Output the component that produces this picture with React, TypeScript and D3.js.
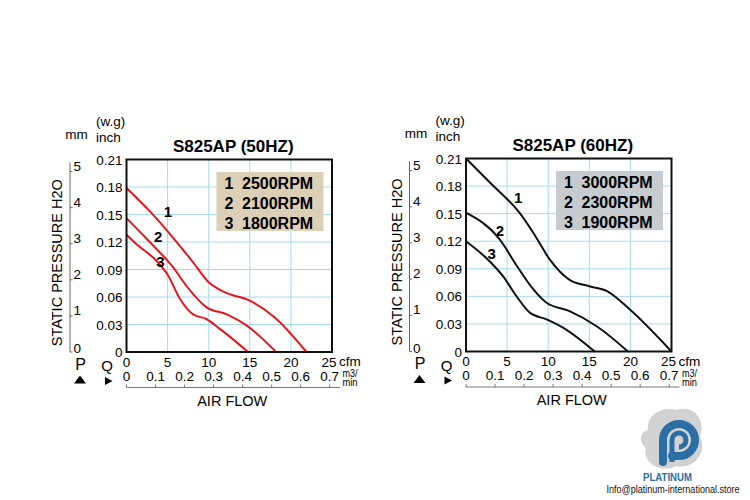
import React from "react";
import * as d3 from "d3";

// axis ticks
const cfmTicks = [0, 5, 10, 15, 20, 25];
const m3Ticks = [0, 0.1, 0.2, 0.3, 0.4, 0.5, 0.6, 0.7];
const inchTicks = [0, 0.03, 0.06, 0.09, 0.12, 0.15, 0.18, 0.21];
const mmTicks = [0, 1, 2, 3, 4, 5];

// 50Hz curves [cfm, inch H2O]
const hz50Rpm1 = [[0, 0.179], [3, 0.152], [6, 0.121], [8, 0.099], [10, 0.076], [12, 0.065], [15, 0.056], [18, 0.038], [21.9, 0]];
const hz50Rpm2 = [[0, 0.146], [2.5, 0.123], [5.7, 0.092], [7.3, 0.072], [9.7, 0.049], [12.2, 0.041], [14.6, 0.029], [18.2, 0]];
const hz50Rpm3 = [[0, 0.128], [1.3, 0.117], [3.7, 0.099], [5.1, 0.083], [6.5, 0.058], [8.1, 0.041], [9.7, 0.036], [11.4, 0.025], [14.8, 0]];
const hz50Legend = ["2500RPM", "2100RPM", "1800RPM"];
const hz50LabelPos = [[5.05, 0.153], [3.85, 0.126], [4.14, 0.099]];

// 60Hz curves
const hz60Rpm1 = [[0, 0.21], [3, 0.183], [6.5, 0.151], [8.2, 0.129], [10.2, 0.1], [12.6, 0.078], [15, 0.071], [17.1, 0.066], [19.9, 0.046], [25, 0]];
const hz60Rpm2 = [[0, 0.151], [4.1, 0.122], [6.2, 0.093], [8.2, 0.0675], [9.8, 0.053], [12.6, 0.044], [15.9, 0.0275], [19.7, 0]];
const hz60Rpm3 = [[0, 0.12], [2.9, 0.098], [4.5, 0.082], [6.15, 0.06], [7.8, 0.042], [9.8, 0.035], [11.8, 0.026], [15.65, 0]];
const hz60Legend = ["3000RPM", "2300RPM", "1900RPM"];
const hz60LabelPos = [[6.36, 0.168], [4.14, 0.132], [3.13, 0.107]];

const FONT = "'Liberation Sans', Arial, sans-serif";

function Panel({ x0, x1, y0, y1, title, curves, legend, legendFill, color, labelPos }) {
  const x = d3.scaleLinear().domain([0, 25]).range([x0, x1]);
  const y = d3.scaleLinear().domain([0, 0.21]).range([y1, y0]);
  const xm = d3.scaleLinear().domain([0, 25 * 0.0283168]).range([x0, x1]);
  const ymm = d3.scaleLinear().domain([0, 0.21 * 25.4]).range([y1, y0]);
  const line = d3.line().x(d => x(d[0])).y(d => y(d[1])).curve(d3.curveMonotoneX);
  const cx = (x0 + x1) / 2;

  return (
    <g fontFamily={FONT}>
      {/* grid */}
      {cfmTicks.slice(1, -1).map(t => (
        <line key={"gx" + t} x1={x(t)} x2={x(t)} y1={y0} y2={y1} stroke="#a6dbec" strokeWidth={1} />
      ))}
      {inchTicks.slice(1, -1).map(t => (
        <line key={"gy" + t} x1={x0} x2={x1} y1={y(t)} y2={y(t)} stroke="#a6dbec" strokeWidth={1} />
      ))}

      {/* curves */}
      {curves.map((c, i) => (
        <path key={"c" + i} d={line(c)} fill="none" stroke={color} strokeWidth={2} />
      ))}
      {labelPos.map((p, i) => (
        <text key={"cl" + i} x={x(p[0])} y={y(p[1]) + 5.5} textAnchor="middle" fontSize={15} fontWeight="bold">{i + 1}</text>
      ))}

      <rect x={x0} y={y0} width={x1 - x0} height={y1 - y0} fill="none" stroke="#111" strokeWidth={2} />

      {/* legend */}
      <rect x={x0 + 90} y={y0 + 12.5} width={107} height={59} fill={legendFill} />
      {legend.map((l, i) => (
        <g key={"lg" + i} fontSize={16} fontWeight="bold">
          <text x={x0 + 98} y={y0 + 29.5 + i * 19.8}>{i + 1}</text>
          <text x={x0 + 115.5} y={y0 + 29.5 + i * 19.8}>{l}</text>
        </g>
      ))}

      <text x={cx + 4} y={y0 - 8} textAnchor="middle" fontSize={17} fontWeight="bold">{title}</text>

      {/* inch axis labels */}
      {inchTicks.map(t => (
        <text key={"il" + t} x={x0 - 4} y={y(t) + 5} textAnchor="end" fontSize={13.5}>{t === 0 ? "0" : t.toFixed(2)}</text>
      ))}
      <text x={x0 - 30.5} y={y0 - 34} fontSize={13.5}>(w.g)</text>
      <text x={x0 - 30.5} y={y0 - 18} fontSize={13.5}>inch</text>
      <text x={x0 - 50} y={y0 - 20.5} textAnchor="middle" fontSize={13.5}>mm</text>

      {/* mm axis */}
      <line x1={x0 - 56.5} x2={x0 - 56.5} y1={y0 + 3} y2={ymm(0)} stroke="#666" strokeWidth={1} />
      {mmTicks.map(t => (
        <g key={"mm" + t}>
          <line x1={x0 - 56.5} x2={x0 - 54} y1={ymm(t)} y2={ymm(t)} stroke="#666" strokeWidth={1} />
          <text x={x0 - 53} y={ymm(t) + (t === 0 ? 1 : -1)} fontSize={13.5}>{t}</text>
        </g>
      ))}
      <text transform={`translate(${x0 - 64.5},${(y0 + y1) / 2 + 7}) rotate(-90)`} textAnchor="middle" fontSize={14.5}>STATIC PRESSURE H2O</text>

      {/* P / Q markers */}
      <text x={x0 - 46} y={y1 + 17.5} textAnchor="middle" fontSize={16}>P</text>
      <path d={`M${x0 - 52.5},${y1 + 31.5} L${x0 - 40.5},${y1 + 31.5} L${x0 - 46.5},${y1 + 23.5} Z`} fill="#000" />
      <text x={x0 - 19.5} y={y1 + 19} textAnchor="middle" fontSize={15}>Q</text>
      <path d={`M${x0 - 21.5},${y1 + 25} L${x0 - 14},${y1 + 29} L${x0 - 21.5},${y1 + 33} Z`} fill="#000" />

      {/* cfm labels */}
      {cfmTicks.map(t => (
        <text key={"cf" + t} x={x(t) - (t === 25 ? 3 : 0)} y={y1 + 14.5} textAnchor="middle" fontSize={13.5}>{t}</text>
      ))}
      <text x={x1 + 7} y={y1 + 14} fontSize={13.5}>cfm</text>

      {/* m3/min labels */}
      {m3Ticks.map(t => (
        <text key={"m3" + t} x={xm(t)} y={y1 + 28.5} textAnchor="middle" fontSize={13.5}>{t === 0 ? "0" : t.toFixed(1)}</text>
      ))}
      <text x={x1 + 10.5} y={y1 + 25} fontSize={10} textLength={15} lengthAdjust="spacingAndGlyphs">m3/</text>
      <text x={x1 + 10.5} y={y1 + 34} fontSize={10} textLength={15} lengthAdjust="spacingAndGlyphs">min</text>
      <line x1={x0} x2={x1 + 8} y1={y1 + 35.5} y2={y1 + 35.5} stroke="#777" strokeWidth={1} />
      {m3Ticks.map(t => (
        <line key={"mt" + t} x1={xm(t)} x2={xm(t)} y1={y1 + 35.5} y2={y1 + 32.5} stroke="#777" strokeWidth={1} />
      ))}
      <text x={cx + 3} y={y1 + 53.5} textAnchor="middle" fontSize={14.5}>AIR FLOW</text>
    </g>
  );
}

function Logo() {
  return (
    <g fontFamily={FONT}>
      <path d="M648,430 C646,414 664,406 676,410 C694,404 706,420 700,436 C708,452 694,470 676,466 C660,474 642,462 646,448 C638,442 640,432 648,430 Z" fill="#d2d2d2" />
      <path d="M663,462 L663,440 A16,16 0 1,1 679,456 L672,456" fill="none" stroke="#2b6ea6" strokeWidth={8} strokeLinecap="round" />
      <path d="M672,462 L672,440 A7,7 0 1,1 679,447" fill="none" stroke="#2b6ea6" strokeWidth={5} />
      <text x={667.5} y={480.5} textAnchor="middle" fontSize={10} fontWeight="bold" fill="#2b6ea6" textLength={49} lengthAdjust="spacingAndGlyphs">PLATINUM</text>
      <text x={673} y={493} textAnchor="middle" fontSize={10.5} fill="#111" textLength={133} lengthAdjust="spacingAndGlyphs">Info@platinum-international.store</text>
    </g>
  );
}

export default function App() {
  return (
    <svg width={750} height={500} style={{ position: "absolute", left: 0, top: 0, background: "#fff" }}>
      <rect width={750} height={500} fill="#fff" />
      <Panel x0={126.5} x1={332} y0={159.5} y1={352} title="S825AP (50HZ)"
        curves={[hz50Rpm1, hz50Rpm2, hz50Rpm3]} legend={hz50Legend} legendFill="#dbcfb6" color="#e3161c" labelPos={hz50LabelPos} />
      <Panel x0={466} x1={671.5} y0={158.5} y1={351.5} title="S825AP (60HZ)"
        curves={[hz60Rpm1, hz60Rpm2, hz60Rpm3]} legend={hz60Legend} legendFill="#c5cbcf" color="#111" labelPos={hz60LabelPos} />
      <Logo />
    </svg>
  );
}
